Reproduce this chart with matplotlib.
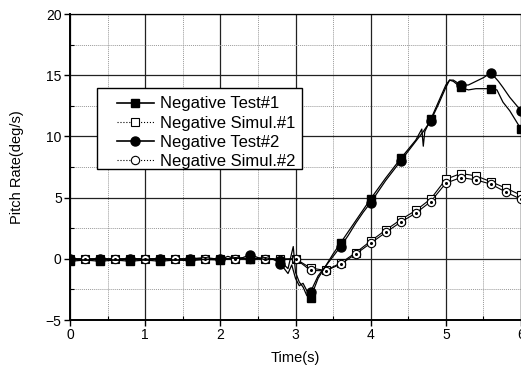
import numpy as np
import matplotlib
matplotlib.use("Agg")
import matplotlib.pyplot as plt
from matplotlib.lines import Line2D
from matplotlib.patches import Rectangle
from matplotlib.ticker import MultipleLocator

plt.rcParams['font.family'] = ['Liberation Sans', 'DejaVu Sans']

# Measured pitch rate, run #1 (time s, rate deg/s)
test1_t = [0.0, 0.2, 0.4, 0.6, 0.8, 1.0, 1.2, 1.4, 1.6, 1.8, 2.0, 2.2, 2.4, 2.6,
           2.8, 2.9, 2.97, 3.0, 3.05, 3.1, 3.15, 3.2, 3.3, 3.4, 3.5, 3.6, 3.7,
           3.8, 3.9, 4.0, 4.2, 4.4, 4.6, 4.68, 4.7, 4.72, 4.8, 4.9, 5.0, 5.05,
           5.1, 5.2, 5.3, 5.4, 5.5, 5.6, 5.68, 5.76, 5.85, 6.0]
test1_v = [-0.2, -0.1, -0.2, -0.1, -0.2, -0.1, -0.2, -0.1, -0.15, -0.05, -0.1,
           0.1, 0.0, 0.1, -0.2, -0.8, 1.0, -1.1, -1.9, -2.3, -3.0, -3.2, -1.6,
           -0.6, 0.4, 1.3, 2.2, 3.1, 4.0, 4.9, 6.6, 8.2, 9.7, 10.6, 9.2, 10.4,
           11.4, 12.8, 14.2, 14.6, 14.5, 14.0, 13.8, 13.9, 13.9, 13.9, 13.8,
           12.8, 12.1, 10.6]

# Measured pitch rate, run #2
test2_t = [0.0, 0.2, 0.4, 0.6, 0.8, 1.0, 1.2, 1.4, 1.6, 1.8, 2.0, 2.1, 2.2, 2.3,
           2.4, 2.5, 2.6, 2.7, 2.8, 2.85, 2.9, 2.95, 3.0, 3.05, 3.1, 3.15, 3.2,
           3.3, 3.4, 3.5, 3.6, 3.7, 3.8, 3.9, 4.0, 4.2, 4.4, 4.6, 4.7, 4.8, 4.9,
           5.0, 5.05, 5.1, 5.2, 5.3, 5.4, 5.5, 5.6, 5.7, 5.76, 5.85, 6.0]
test2_v = [0.0, -0.1, 0.0, -0.1, 0.0, -0.05, 0.0, -0.1, 0.0, 0.1, -0.05, 0.2,
           0.0, 0.1, 0.35, 0.1, -0.1, 0.0, -0.4, -0.8, -1.2, -0.5, -1.6, -2.2,
           -2.0, -2.6, -2.7, -1.4, -0.6, 0.2, 1.0, 1.9, 2.9, 3.8, 4.6, 6.4, 8.0,
           9.6, 10.4, 11.3, 12.6, 14.0, 14.6, 14.6, 14.2, 14.2, 14.5, 14.8, 15.2,
           14.5, 14.0, 13.2, 12.1]

# Simulated pitch rate, sampled every 0.2 s
sim_t = [0.0, 0.2, 0.4, 0.6, 0.8, 1.0, 1.2, 1.4, 1.6, 1.8, 2.0, 2.2, 2.4, 2.6,
         2.8, 3.0, 3.2, 3.4, 3.6, 3.8, 4.0, 4.2, 4.4, 4.6, 4.8, 5.0, 5.2, 5.4,
         5.6, 5.8, 6.0]
sim1_v = [0.0, 0.0, 0.0, 0.0, 0.0, 0.0, 0.0, 0.0, 0.0, 0.0, 0.0, 0.0, 0.0, 0.0,
          0.0, 0.0, -0.75, -0.95, -0.35, 0.5, 1.45, 2.35, 3.2, 3.95, 4.9, 6.5,
          6.97, 6.78, 6.3, 5.77, 5.2]
sim2_v = [0.0, 0.0, 0.0, 0.0, 0.0, 0.0, 0.0, 0.0, 0.0, 0.0, 0.0, 0.0, 0.0, 0.0,
          -0.08, 0.0, -0.95, -0.98, -0.44, 0.38, 1.28, 2.15, 3.0, 3.73, 4.68,
          6.18, 6.64, 6.45, 6.1, 5.45, 4.87]

labels = ["Negative Test#1", "Negative Simul.#1", "Negative Test#2",
          "Negative Simul.#2"]


def every(t, step=0.4):
    t = np.asarray(t)
    return [i for i, v in enumerate(t) if np.isclose(v / step, round(v / step))]


fig = plt.figure(figsize=(5.21, 3.70), dpi=100)
ax = fig.add_axes([0.1344, 0.1351, 0.8656, 0.8270])

ax.plot(sim_t, sim1_v, color='black', lw=0.8, marker='s', ms=6.0,
        mfc='white', mec='black', mew=0.8, zorder=3)
ax.plot(sim_t, sim2_v, color='black', lw=0.8, marker='o', ms=6.0,
        mfc='white', mec='black', mew=0.8, zorder=4)
ax.plot(sim_t, sim2_v, ls='none', marker='o', ms=1.2, color='black', zorder=5)
ax.plot(test1_t, test1_v, color='black', lw=0.9, marker='s', ms=6.0,
        mfc='black', mec='black', markevery=every(test1_t), zorder=6)
ax.plot(test2_t, test2_v, color='black', lw=0.9, marker='o', ms=6.5,
        mfc='black', mec='black', markevery=every(test2_t), zorder=6)

ax.set_xlim(0, 6)
ax.set_ylim(-5, 20)
ax.xaxis.set_major_locator(MultipleLocator(1))
ax.xaxis.set_minor_locator(MultipleLocator(0.5))
ax.yaxis.set_major_locator(MultipleLocator(5))
ax.yaxis.set_minor_locator(MultipleLocator(2.5))

ax.grid(which='major', color='#222222', lw=0.9, ls='-')
ax.grid(which='minor', color='#999999', lw=0.7, ls=(0, (1, 1)))
ax.set_axisbelow(True)

ax.tick_params(which='major', direction='out', length=4, width=1.0,
               labelsize=10, colors='black', pad=2)
ax.tick_params(which='minor', direction='in', length=3, width=0.8)
for s in ax.spines.values():
    s.set_color('black')
    s.set_linewidth(0.9)
ax.spines['left'].set_linewidth(1.4)
ax.spines['bottom'].set_linewidth(1.4)

ax.set_xlabel("Time(s)", fontsize=10.5, labelpad=6)
ax.set_ylabel("Pitch Rate(deg/s)", fontsize=10.5, labelpad=16)

# Legend box: white panel with a black border, entries placed inside
ax.add_patch(Rectangle((0.0599, 0.4935), 0.4545, 0.2645,
                       transform=ax.transAxes, facecolor='white',
                       edgecolor='black', lw=1.0, zorder=9))

handles = [
    Line2D([], [], color='black', lw=1.2, marker='s', ms=6, mfc='black'),
    Line2D([], [], color='black', lw=0.8, ls=':', marker='s', ms=6,
           mfc='white', mew=0.8),
    Line2D([], [], color='black', lw=1.2, marker='o', ms=6.5, mfc='black'),
    Line2D([], [], color='black', lw=0.8, ls=':', marker='o', ms=6,
           mfc='white', mew=0.8),
]
leg = ax.legend(handles, labels, loc='upper left',
                bbox_to_anchor=(0.1042, 0.731), fontsize=12, frameon=False,
                handlelength=2.2, handletextpad=0.4, labelspacing=0.25,
                borderpad=0, borderaxespad=0)
leg.set_zorder(10)

fig.savefig("out.png", dpi=100)
